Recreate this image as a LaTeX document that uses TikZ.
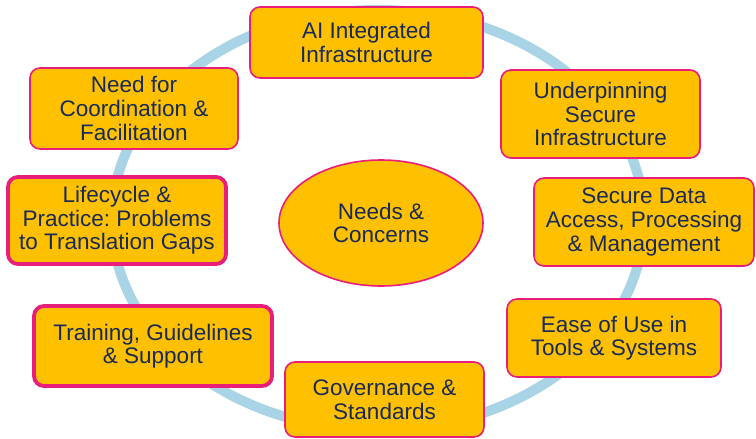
\documentclass[tikz,border=0pt]{standalone}
\usepackage{fontspec}
\setmainfont{Liberation Sans}
\usepackage{tikz}
\usetikzlibrary{shapes}
\frenchspacing

\definecolor{needfill}{RGB}{255,192,0}
\definecolor{needline}{RGB}{233,30,122}
\definecolor{ringblue}{RGB}{168,212,230}
\definecolor{needtext}{RGB}{24,42,88}

\begin{document}
\begin{tikzpicture}[x=1pt, y=-1pt,
  need/.style={draw=needline, fill=needfill, text=needtext, line width=1.6pt,
    align=center, inner sep=0pt, font=\fontsize{22.5}{23.6}\selectfont},
  needbox/.style={need, rounded corners=10pt},
  needthick/.style={needbox, line width=3.8pt},
  ring/.style={draw=ringblue, line width=10pt}]

  \newcommand\Cx{378}
  \newcommand\Cy{220}

  \useasboundingbox (0,0) rectangle (756,439);

  \draw[ring] (\Cx,\Cy) ellipse [x radius=266pt, y radius=210pt];

  \node[need, ellipse, minimum width=204pt, minimum height=126pt] (concerns) at (381,223) {Needs \&\\Concerns};

  \node[needbox, minimum width=233pt, minimum height=71pt] (aiinfra) at (366.5,42.5) {AI Integrated\\Infrastructure};
  \node[needbox, minimum width=199pt, minimum height=88pt] (underpin) at (600.5,114) {Underpinning\\Secure\\Infrastructure};
  \node[needbox, minimum width=220pt, minimum height=88pt] (secdata) at (644,222) {Secure Data\\Access, Processing\\\& Management};
  \node[needbox, minimum width=214pt, minimum height=78pt] (ease) at (614,338) {Ease of Use in\\Tools \& Systems};
  \node[needbox, minimum width=199pt, minimum height=75pt] (govern) at (384.5,399.5) {Governance \&\\Standards};
  \node[needthick, minimum width=238pt, minimum height=80pt] (training) at (153,346) {Training, Guidelines\\\& Support};
  \node[needthick, minimum width=218pt, minimum height=87pt] (lifecycle) at (117,220.5) {Lifecycle \&\\Practice: Problems\\to Translation Gaps};
  \node[needbox, minimum width=208pt, minimum height=81pt] (coord) at (134,108.5) {Need for\\Coordination \&\\Facilitation}; %% top left
\end{tikzpicture}
\end{document}
